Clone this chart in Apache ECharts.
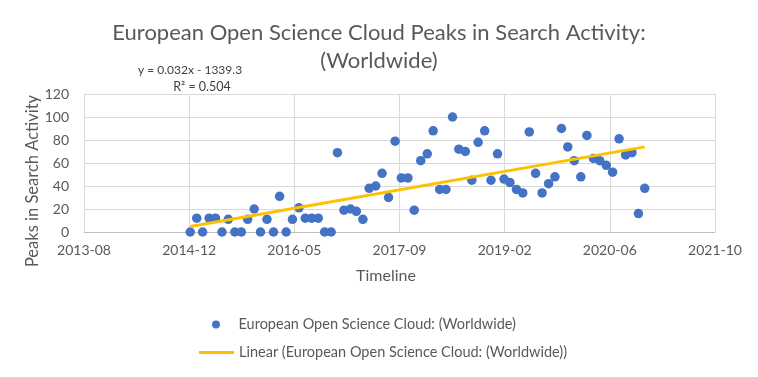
<!DOCTYPE html>
<html>
<head>
<meta charset="utf-8">
<script src="https://cdn.jsdelivr.net/npm/echarts@6/dist/echarts.min.js"></script>
<style>html,body{margin:0;padding:0;background:#fff;}#c{width:758px;height:377px;}</style>
</head>
<body>
<div id="c"></div>
<script>
const months = [
  "2015-01","2015-02","2015-03","2015-04","2015-05","2015-06","2015-07","2015-08","2015-09","2015-10","2015-11","2015-12",
  "2016-01","2016-02","2016-03","2016-04","2016-05","2016-06","2016-07","2016-08","2016-09","2016-10","2016-11","2016-12",
  "2017-01","2017-02","2017-03","2017-04","2017-05","2017-06","2017-07","2017-08","2017-09","2017-10","2017-11","2017-12",
  "2018-01","2018-02","2018-03","2018-04","2018-05","2018-06","2018-07","2018-08","2018-09","2018-10","2018-11","2018-12",
  "2019-01","2019-02","2019-03","2019-04","2019-05","2019-06","2019-07","2019-08","2019-09","2019-10","2019-11","2019-12",
  "2020-01","2020-02","2020-03","2020-04","2020-05","2020-06","2020-07","2020-08","2020-09","2020-10","2020-11","2020-12"
];
const peaks = [
  0,12,0,12,12,0,11,0,0,11,20,0,
  11,0,31,0,11,21,12,12,12,0,0,69,
  19,20,18,11,38,40,51,30,79,47,47,19,
  62,68,88,37,37,100,72,70,45,78,88,45,
  68,46,43,37,34,87,51,34,42,48,90,74,
  62,48,84,64,62,58,52,81,67,69,16,38
];
const trendSlope = 0.032;
const trendIntercept = -1339.3;
const xTicks = [41500, 42000, 42500, 43000, 43500, 44000, 44500];
const yTicks = [0, 20, 40, 60, 80, 100, 120];
const seriesName = "European Open Science Cloud: (Worldwide)";
const trendName = "Linear (European Open Science Cloud: (Worldwide))";

const EXCEL_EPOCH = Date.UTC(1899, 11, 30);
function toSerial(m) {
  const [y, mo] = m.split("-").map(Number);
  return Math.round((Date.UTC(y, mo - 1, 1) - EXCEL_EPOCH) / 86400000);
}
function serialLabel(s) {
  const d = new Date(EXCEL_EPOCH + s * 86400000);
  return d.getUTCFullYear() + "-" + String(d.getUTCMonth() + 1).padStart(2, "0");
}
const scatterData = months.map((m, i) => [toSerial(m), peaks[i]]);
const x0 = toSerial(months[0]), x1 = toSerial(months[months.length - 1]);
const trendData = [[x0, trendSlope * x0 + trendIntercept], [x1, trendSlope * x1 + trendIntercept]];

const FONT = "Lato, 'Liberation Sans', sans-serif";
const GREY = "#595959";
const chart = echarts.init(document.getElementById("c"), null, {renderer: "canvas"});
chart.setOption({
  animation: false,
  backgroundColor: "#fff",
  textStyle: {fontFamily: FONT},
  title: {
    text: "European Open Science Cloud Peaks in Search Activity:\n(Worldwide)",
    left: "center", top: 14,
    textStyle: {fontFamily: FONT, fontSize: 22, fontWeight: "normal", color: GREY, lineHeight: 28}
  },
  graphic: [
    {type: "text", x: 190, y: 70, style: {text: "y = 0.032x - 1339.3", font: "12px " + FONT, fill: "#404040", textAlign: "center", textVerticalAlign: "middle"}},
    {type: "text", x: 202, y: 87, style: {text: "R² = 0.504", font: "12.5px " + FONT, fill: "#404040", textAlign: "center", textVerticalAlign: "middle"}},
    {type: "text", x: 33, y: 181, rotation: Math.PI / 2, style: {text: "Peaks in Search Activity", font: "16.5px " + FONT, fill: GREY, textAlign: "center", textVerticalAlign: "middle"}},
    {type: "text", x: 386, y: 276, style: {text: "Timeline", font: "16px " + FONT, fill: GREY, textAlign: "center", textVerticalAlign: "middle"}}
  ],
  grid: {left: 84, right: 43, top: 94, bottom: 145},
  xAxis: {
    type: "value", min: xTicks[0], max: xTicks[xTicks.length - 1], interval: 500,
    axisLine: {show: true, lineStyle: {color: "#bfbfbf", width: 1}},
    axisTick: {show: false},
    axisLabel: {formatter: v => serialLabel(v), fontFamily: FONT, fontSize: 14, color: GREY, margin: 11},
    splitLine: {show: true, lineStyle: {color: "#d9d9d9", width: 1}}
  },
  yAxis: {
    type: "value", min: yTicks[0], max: yTicks[yTicks.length - 1], interval: 20,
    axisLine: {show: false},
    axisTick: {show: false},
    axisLabel: {fontFamily: FONT, fontSize: 14, color: GREY, margin: 15},
    splitLine: {show: true, lineStyle: {color: "#d9d9d9", width: 1}}
  },
  legend: [
    {
      orient: "vertical", left: 212, top: 317, padding: 0, icon: "circle",
      itemWidth: 35, itemHeight: 8,
      textStyle: {fontFamily: FONT, fontSize: 14.5, color: GREY},
      data: [seriesName]
    },
    {
      orient: "vertical", left: 199, top: 345, padding: 0, icon: "rect",
      itemWidth: 35, itemHeight: 3,
      textStyle: {fontFamily: FONT, fontSize: 14.5, color: GREY},
      data: [trendName]
    }
  ],
  series: [
    {
      name: seriesName, type: "scatter", data: scatterData, symbol: "circle", symbolSize: 9.5,
      itemStyle: {color: "#4472C4", opacity: 1}, z: 2
    },
    {
      name: trendName, type: "line", data: trendData, symbol: "none", showSymbol: false,
      lineStyle: {color: "#FFC000", width: 3}, itemStyle: {color: "#FFC000"}, z: 3
    }
  ]
});
</script>
</body>
</html>
